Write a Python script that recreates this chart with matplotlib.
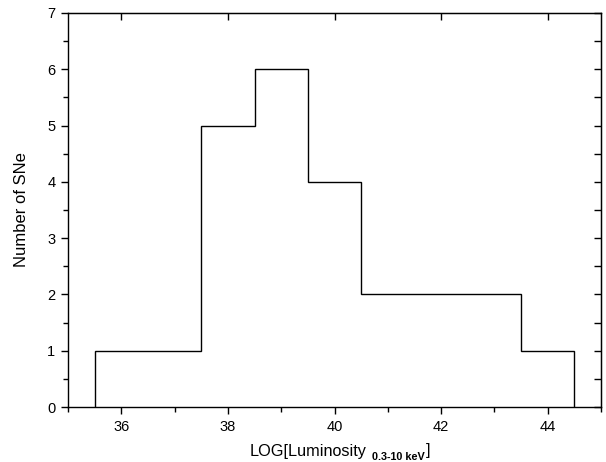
import matplotlib
matplotlib.use('Agg')
import matplotlib.pyplot as plt
import numpy as np
from matplotlib.ticker import MultipleLocator

plt.rcParams['font.family'] = ['Liberation Sans', 'DejaVu Sans']

# histogram of SNe luminosities (bin edges and counts)
binEdges = [35.5, 36.5, 37.5, 38.5, 39.5, 40.5, 41.5, 42.5, 43.5, 44.5]
counts = [1, 1, 5, 6, 4, 2, 2, 2, 1]

fig = plt.figure(figsize=(6.06, 4.62), dpi=100)
ax = fig.add_axes([0.112, 0.119, 0.88, 0.853])

# outline only, drops to zero at both ends
ax.stairs(counts, binEdges, color='black', linewidth=1.0, fill=False, baseline=0)

ax.set_xlim(35, 45)
ax.set_ylim(0, 7)
ax.xaxis.set_major_locator(MultipleLocator(2))
ax.xaxis.set_minor_locator(MultipleLocator(1))
ax.yaxis.set_major_locator(MultipleLocator(1))
ax.yaxis.set_minor_locator(MultipleLocator(0.5))

ax.tick_params(axis='both', which='major', direction='out', length=5, width=1,
               labelsize=10.5, pad=4)
ax.tick_params(axis='both', which='minor', direction='out', length=3.5, width=1)

# inward ticks on top (major only) and right (major + minor)
top = ax.secondary_xaxis('top')
top.xaxis.set_major_locator(MultipleLocator(2))
top.tick_params(direction='in', length=5, width=1, labeltop=False)
right = ax.secondary_yaxis('right')
right.yaxis.set_major_locator(MultipleLocator(1))
right.yaxis.set_minor_locator(MultipleLocator(0.5))
right.tick_params(which='both', direction='in', length=5, width=1, labelright=False)

for s in ax.spines.values():
    s.set_linewidth(1.0)

ax.set_ylabel('Number of SNe', fontsize=12, labelpad=13)

# x label built from pieces: main text, small bold subscript, closing bracket
fig.canvas.draw()
r = fig.canvas.get_renderer()
t1 = fig.text(250 / 606, 1 - 456 / 462, 'LOG[Luminosity', fontsize=11.7, ha='left', va='baseline')
e1 = t1.get_window_extent(r)
t2 = fig.text((e1.x1 + 5) / 606, 1 - 460 / 462, '0.3-10 keV', fontsize=7.8,
              fontweight='bold', ha='left', va='baseline')
e2 = t2.get_window_extent(r)
t3 = fig.text((e2.x1 + 1) / 606, 1 - 455 / 462, ']', fontsize=11.7, ha='left', va='baseline')

fig.savefig('out.png', dpi=100)
